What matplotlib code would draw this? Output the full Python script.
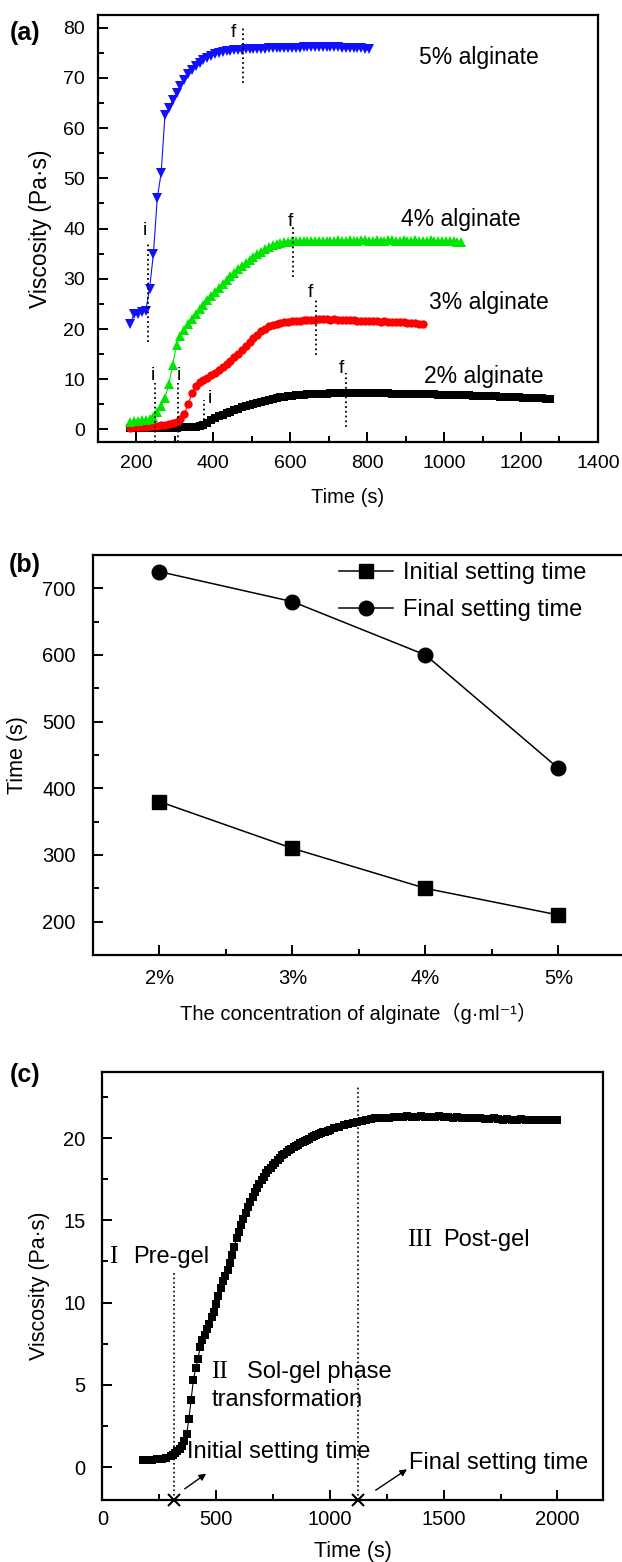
import numpy as np
import matplotlib
matplotlib.use('Agg')
import matplotlib.pyplot as plt
from matplotlib.ticker import MultipleLocator

plt.rcParams['font.family'] = ['Liberation Sans', 'DejaVu Sans', 'Noto Sans CJK SC']

# ---- panel (a): viscosity vs time, sampled every 10 s ----
a_start = 185
a_step = 10
visc_5 = [21.0, 23.0, 23.0, 23.3, 23.6, 28.0, 35.0, 46.0, 51.0, 62.5,
          64.0, 65.6, 67.0, 68.4, 69.6, 70.7, 71.6, 72.4, 73.0, 73.5,
          74.0, 74.4, 74.7, 74.9, 75.1, 75.3, 75.4, 75.5, 75.6, 75.6,
          75.7, 75.7, 75.7, 75.8, 75.8, 75.8, 75.9, 75.9, 75.9, 75.9,
          76.0, 76.0, 76.0, 76.0, 76.0, 76.1, 76.1, 76.1, 76.1, 76.1,
          76.1, 76.2, 76.1, 76.1, 76.1, 76.0, 76.0, 76.0, 76.0, 75.9,
          75.9, 75.8, 75.8]
visc_4 = [1.5, 1.6, 1.7, 1.8, 1.9, 2.1, 2.5, 3.4, 4.6, 6.2,
          9.0, 12.8, 16.8, 18.6, 19.8, 20.9, 22.0, 23.0, 23.9, 24.8,
          25.7, 26.6, 27.4, 28.2, 29.0, 29.8, 30.5, 31.2, 31.9, 32.5,
          33.1, 33.7, 34.3, 34.9, 35.4, 36.0, 36.4, 36.8, 37.0, 37.2,
          37.3, 37.4, 37.5, 37.5, 37.6, 37.5, 37.6, 37.6, 37.5, 37.6,
          37.6, 37.6, 37.5, 37.6, 37.7, 37.6, 37.6, 37.7, 37.6, 37.6,
          37.7, 37.7, 37.6, 37.6, 37.7, 37.6, 37.6, 37.7, 37.7, 37.6,
          37.6, 37.7, 37.6, 37.6, 37.7, 37.6, 37.6, 37.6, 37.7, 37.6,
          37.6, 37.5, 37.6, 37.5, 37.5, 37.4, 37.3]
visc_3 = [0.3, 0.4, 0.4, 0.5, 0.5, 0.6, 0.6, 0.7, 0.8, 0.9,
          1.0, 1.2, 1.5, 2.0, 3.0, 5.0, 7.2, 8.7, 9.4, 9.9,
          10.3, 10.8, 11.3, 11.8, 12.4, 13.0, 13.7, 14.4, 15.1, 15.8,
          16.6, 17.4, 18.2, 18.9, 19.6, 20.1, 20.5, 20.8, 21.0, 21.2,
          21.3, 21.4, 21.5, 21.6, 21.6, 21.7, 21.7, 21.8, 21.8, 21.9,
          21.9, 21.9, 21.8, 21.9, 21.8, 21.8, 21.7, 21.7, 21.7, 21.6,
          21.6, 21.6, 21.5, 21.5, 21.5, 21.4, 21.5, 21.4, 21.4, 21.3,
          21.3, 21.3, 21.2, 21.1, 21.2, 21.0, 21.0]
visc_2 = [0.2, 0.2, 0.2, 0.2, 0.2, 0.3, 0.3, 0.3, 0.3, 0.3,
          0.3, 0.3, 0.3, 0.4, 0.4, 0.4, 0.4, 0.5, 0.6, 0.8,
          1.3, 1.8, 2.3, 2.6, 2.9, 3.2, 3.5, 3.8, 4.1, 4.4,
          4.6, 4.9, 5.1, 5.3, 5.5, 5.7, 5.9, 6.1, 6.2, 6.4,
          6.5, 6.6, 6.7, 6.8, 6.9, 6.95, 7.0, 7.05, 7.1, 7.1,
          7.15, 7.15, 7.2, 7.2, 7.2, 7.2, 7.2, 7.2, 7.2, 7.2,
          7.2, 7.2, 7.2, 7.2, 7.2, 7.2, 7.2, 7.2, 7.15, 7.15,
          7.15, 7.1, 7.1, 7.1, 7.1, 7.05, 7.05, 7.0, 7.0, 7.0,
          6.95, 6.95, 6.9, 6.9, 6.9, 6.85, 6.85, 6.8, 6.8, 6.75,
          6.75, 6.7, 6.7, 6.65, 6.6, 6.6, 6.55, 6.5, 6.5, 6.45,
          6.4, 6.4, 6.35, 6.3, 6.3, 6.25, 6.2, 6.2, 6.15, 6.1]
series_labels = ['5% alginate', '4% alginate', '3% alginate', '2% alginate']

# initial (i) and final (f) setting marks in panel (a): x, dotted from y0 to y1
mark_text = ['i', 'f', 'i', 'f', 'i', 'f', 'i', 'f']
mark_x = [230, 477, 249, 607, 309, 668, 377, 745]
mark_y0 = [17.4, 69, -2.5, 30.4, -2.5, 14.8, 1.8, 0.5]
mark_y1 = [37, 80, 9.2, 40.3, 9.2, 26, 5.9, 11.2]
mark_tx = [223, 454, 245, 600, 311, 654, 391, 733]
mark_ty = [39.6, 79, 10.8, 41.4, 10.8, 27.2, 6.2, 12.2]

# ---- panel (b): setting time vs concentration ----
conc = [2, 3, 4, 5]
conc_labels = ['2%', '3%', '4%', '5%']
initial_time = [380, 310, 250, 210]
final_time = [725, 680, 600, 430]

# ---- panel (c): 3% alginate, sampling segments ----
c_seg_start = [180, 310, 600, 1020]
c_seg_step = [20, 10, 10, 20]
c_seg_visc = [
    [0.45, 0.45, 0.45, 0.5, 0.5, 0.55, 0.65],
    [0.75, 0.85, 0.95, 1.1, 1.3, 1.6, 2.0, 2.9, 4.1, 5.3,
     6.0, 6.6, 7.3, 7.7, 8.0, 8.4, 8.7, 9.1, 9.4, 9.9,
     10.4, 10.9, 11.3, 11.6, 12.0, 12.4, 12.9, 13.4, 13.9],
    [14.3, 14.7, 15.1, 15.45, 15.8, 16.1, 16.4, 16.7, 16.95, 17.2,
     17.45, 17.65, 17.85, 18.05, 18.2, 18.35, 18.5, 18.65, 18.8, 18.95,
     19.05, 19.15, 19.25, 19.35, 19.45, 19.5, 19.6, 19.7, 19.75, 19.85,
     19.9, 19.95, 20.05, 20.1, 20.2, 20.25, 20.3, 20.35, 20.4, 20.45,
     20.5],
    [20.6, 20.7, 20.8, 20.85, 20.9, 21.0, 21.05, 21.1, 21.15, 21.2,
     21.2, 21.25, 21.25, 21.3, 21.3, 21.3, 21.35, 21.3, 21.3, 21.35,
     21.3, 21.3, 21.3, 21.35, 21.3, 21.3, 21.25, 21.3, 21.25, 21.2,
     21.2, 21.25, 21.2, 21.15, 21.15, 21.2, 21.15, 21.1, 21.15, 21.1,
     21.1, 21.15, 21.1, 21.1, 21.1, 21.1, 21.1, 21.1, 21.1, 21.1],
]
c_initial = 315
c_final = 1125


def style_axes(ax, tick_size, ypad, xpad):
    for s in ax.spines.values():
        s.set_linewidth(1.6)
    ax.tick_params(which='both', direction='in', top=False, right=False,
                   width=1.4, labelsize=tick_size)
    ax.tick_params(which='major', length=7)
    ax.tick_params(which='minor', length=4)
    ax.tick_params(axis='y', pad=ypad)
    ax.tick_params(axis='x', pad=xpad)


def times(start, step, values):
    return np.arange(start, start + step * len(values), step)[:len(values)]


def panel_a(fig):
    ax = fig.add_axes([0.1569, 0.717, 0.8045, 0.2734])
    ax.plot(times(a_start, a_step, visc_2), visc_2, 's-', color='k', ms=5.5, lw=0.8, mew=0)
    ax.plot(times(a_start, a_step, visc_3), visc_3, 'o-', color='#ff0000', ms=6, lw=0.8, mew=0)
    ax.plot(times(a_start, a_step, visc_4), visc_4, '^-', color='#00e600', ms=6.5, lw=0.8, mew=0)
    ax.plot(times(a_start, a_step, visc_5), visc_5, 'v-', color='#1010ff', ms=7.5, lw=0.8, mew=0)

    for t, x, y0, y1, tx, ty in zip(mark_text, mark_x, mark_y0, mark_y1, mark_tx, mark_ty):
        ax.plot([x, x], [y0, y1], ':', color='k', lw=1.3)
        ax.text(tx, ty, t, fontsize=14, ha='center', va='center')

    label_pos = [(935, 74), (888, 41.7), (960, 25.2), (949, 10.5)]
    for lab, (x, y) in zip(series_labels, label_pos):
        ax.text(x, y, lab, fontsize=16.5, ha='left', va='center')

    ax.set_xlim(100, 1400)
    ax.set_ylim(-2.5, 82.5)
    ax.xaxis.set_major_locator(MultipleLocator(200))
    ax.xaxis.set_minor_locator(MultipleLocator(100))
    ax.yaxis.set_major_locator(MultipleLocator(10))
    ax.yaxis.set_minor_locator(MultipleLocator(5))
    style_axes(ax, 14, 9, 9)
    ax.set_ylabel('Viscosity (Pa·s)', fontsize=16.5, va='center')
    ax.yaxis.set_label_coords(-0.115, 0.5)
    ax.set_xlabel('Time (s)', fontsize=14.5, va='center')
    ax.xaxis.set_label_coords(0.5, -0.131)


def panel_b(fig):
    ax = fig.add_axes([0.1495, 0.3886, 0.8553, 0.2561])
    ax.plot(conc, initial_time, 's-', color='k', ms=9.5, lw=1.1, label='Initial setting time')
    ax.plot(conc, final_time, 'o-', color='k', ms=10.5, lw=1.1, label='Final setting time')
    ax.set_xlim(1.5, 5.5)
    ax.set_ylim(150, 750)
    ax.set_xticks(conc)
    ax.set_xticklabels(conc_labels)
    ax.xaxis.set_minor_locator(MultipleLocator(0.5))
    ax.yaxis.set_major_locator(MultipleLocator(100))
    ax.yaxis.set_minor_locator(MultipleLocator(50))
    style_axes(ax, 14.5, 12.5, 10)
    ax.set_ylabel('Time (s)', fontsize=15.5, va='center')
    ax.yaxis.set_label_coords(-0.141, 0.5)
    ax.set_xlabel('The concentration of alginate\uff08g·ml\u207b\u00b9\uff09', fontsize=14.5, va='center')
    ax.xaxis.set_label_coords(0.5, -0.145)
    ax.legend(loc='upper left', bbox_to_anchor=(0.545, 0.6400), bbox_transform=fig.transFigure,
              frameon=False, fontsize=17, handlelength=2.3, handletextpad=0.4,
              labelspacing=0.62, borderpad=0, borderaxespad=0)


def panel_c(fig):
    ax = fig.add_axes([0.1646, 0.0397, 0.8048, 0.2738])
    t = np.concatenate([times(s, st, v) for s, st, v in zip(c_seg_start, c_seg_step, c_seg_visc)])
    v = np.concatenate(c_seg_visc)
    ax.plot(t, v, 's-', color='k', ms=6, lw=0.8, mew=0)

    ax.plot([c_initial, c_initial], [-2, 11.8], ':', color='k', lw=1.2)
    ax.plot([c_final, c_final], [-2, 23.1], ':', color='k', lw=1.2)
    ax.plot([c_initial, c_final], [-2, -2], 'x', color='k', ms=9, mew=1.5, clip_on=False, zorder=5)

    ax.annotate('', xy=(466, -0.3), xytext=(352, -1.42),
                arrowprops=dict(arrowstyle='-|>', color='k', lw=1, mutation_scale=10))
    ax.annotate('', xy=(1349, -0.04), xytext=(1191, -1.5),
                arrowprops=dict(arrowstyle='-|>', color='k', lw=1, mutation_scale=10))

    serif = 'Liberation Serif'
    ax.text(30, 12.8, 'I', fontsize=18, family=serif, va='center')
    ax.text(135, 12.8, 'Pre-gel', fontsize=17, va='center')
    ax.text(478, 5.8, 'II', fontsize=18, family=serif, va='center')
    ax.text(636, 5.8, 'Sol-gel phase', fontsize=17, va='center')
    ax.text(478, 4.06, 'transformation', fontsize=17, va='center')
    ax.text(1338, 13.8, 'III', fontsize=18, family=serif, va='center')
    ax.text(1497, 13.8, 'Post-gel', fontsize=17, va='center')
    ax.text(370, 0.9, 'Initial setting time', fontsize=17, va='center')
    ax.text(1349, 0.25, 'Final setting time', fontsize=17, va='center')

    ax.set_xlim(0, 2200)
    ax.set_ylim(-2, 24)
    ax.xaxis.set_major_locator(MultipleLocator(500))
    ax.xaxis.set_minor_locator(MultipleLocator(250))
    ax.yaxis.set_major_locator(MultipleLocator(5))
    ax.yaxis.set_minor_locator(MultipleLocator(2.5))
    ax.set_xticks([0, 500, 1000, 1500, 2000])
    style_axes(ax, 14.5, 12, 7)
    ax.set_ylabel('Viscosity (Pa·s)', fontsize=15.5, va='center')
    ax.yaxis.set_label_coords(-0.1247, 0.5)
    ax.set_xlabel('Time (s)', fontsize=15.5, va='center')
    ax.xaxis.set_label_coords(0.5, -0.1216)


def main():
    fig = plt.figure(figsize=(6.22, 15.62), dpi=100)
    panel_a(fig)
    panel_b(fig)
    panel_c(fig)
    for lab, y in [('(a)', 33), ('(b)', 565), ('(c)', 1075)]:
        fig.text(25 / 622, 1 - y / 1562, lab, fontsize=18, fontweight='bold', ha='center', va='center')
    fig.savefig('out.png', dpi=100)


if __name__ == '__main__':
    main()
